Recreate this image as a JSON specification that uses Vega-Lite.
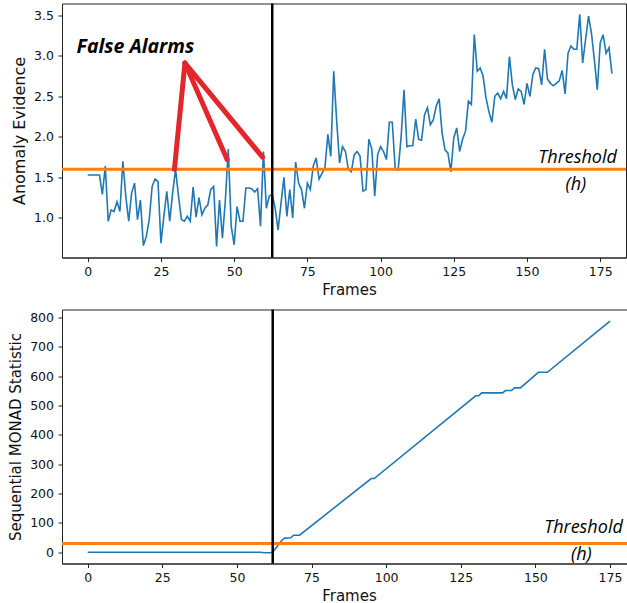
{
  "$schema": "https://vega.github.io/schema/vega-lite/v6.json",
  "background": "white",
  "padding": {"left": 7, "top": 1.5, "right": 0, "bottom": 0},
  "spacing": 10,
  "config": {
    "view": {"stroke": "#222", "strokeWidth": 1},
    "axis": {"grid": false, "domainColor": "#222", "tickColor": "#222", "tickSize": 4, "tickWidth": 1, "domainWidth": 1,
      "labelFont": "DejaVu Sans", "labelFontSize": 12.5, "labelColor": "#111", "labelPadding": 4.5, "labelOverlap": false,
      "titleFont": "DejaVu Sans", "titleFontSize": 15, "titleFontWeight": "normal", "titleColor": "#111"},
    "axisX": {"titlePadding": 4, "labelPadding": 4}
  },
  "datasets": {
    "evidence": [
      {"frame":0,"value":1.53},{"frame":1,"value":1.53},{"frame":2,"value":1.53},{"frame":3,"value":1.53},{"frame":4,"value":1.53},
      {"frame":5,"value":1.29},{"frame":6,"value":1.64},{"frame":7,"value":0.96},{"frame":8,"value":1.10},{"frame":9,"value":1.08},
      {"frame":10,"value":1.20},{"frame":11,"value":1.08},{"frame":12,"value":1.70},{"frame":13,"value":1.27},{"frame":14,"value":0.96},
      {"frame":15,"value":1.31},{"frame":16,"value":1.43},{"frame":17,"value":0.98},{"frame":18,"value":1.22},{"frame":19,"value":0.66},
      {"frame":20,"value":0.77},{"frame":21,"value":0.98},{"frame":22,"value":1.39},{"frame":23,"value":1.48},{"frame":24,"value":1.45},
      {"frame":25,"value":0.69},{"frame":26,"value":1.02},{"frame":27,"value":1.33},{"frame":28,"value":0.96},{"frame":29,"value":1.31},
      {"frame":30,"value":1.60},{"frame":31,"value":1.27},{"frame":32,"value":0.98},{"frame":33,"value":0.96},{"frame":34,"value":1.02},
      {"frame":35,"value":0.96},{"frame":36,"value":1.38},{"frame":37,"value":1.01},{"frame":38,"value":1.25},{"frame":39,"value":1.04},
      {"frame":40,"value":1.12},{"frame":41,"value":1.16},{"frame":42,"value":1.35},{"frame":43,"value":1.39},{"frame":44,"value":0.65},
      {"frame":45,"value":1.22},{"frame":46,"value":0.75},{"frame":47,"value":1.22},{"frame":48,"value":1.85},{"frame":49,"value":0.90},
      {"frame":50,"value":0.67},{"frame":51,"value":1.14},{"frame":52,"value":0.96},{"frame":53,"value":0.96},{"frame":54,"value":1.37},
      {"frame":55,"value":1.37},{"frame":56,"value":1.36},{"frame":57,"value":1.32},{"frame":58,"value":1.36},{"frame":59,"value":0.90},
      {"frame":60,"value":1.82},{"frame":61,"value":1.12},{"frame":62,"value":1.27},{"frame":63,"value":1.29},{"frame":64,"value":1.12},
      {"frame":65,"value":0.85},{"frame":66,"value":1.18},{"frame":67,"value":1.50},{"frame":68,"value":1.02},{"frame":69,"value":1.35},
      {"frame":70,"value":1.00},{"frame":71,"value":1.69},{"frame":72,"value":1.43},{"frame":73,"value":1.35},{"frame":74,"value":1.12},
      {"frame":75,"value":1.43},{"frame":76,"value":1.35},{"frame":77,"value":1.64},{"frame":78,"value":1.74},{"frame":79,"value":1.48},
      {"frame":80,"value":1.55},{"frame":81,"value":1.62},{"frame":82,"value":2.03},{"frame":83,"value":1.76},{"frame":84,"value":2.81},
      {"frame":85,"value":2.20},{"frame":86,"value":1.68},{"frame":87,"value":1.88},{"frame":88,"value":1.82},{"frame":89,"value":1.60},
      {"frame":90,"value":1.57},{"frame":91,"value":1.78},{"frame":92,"value":1.82},{"frame":93,"value":1.76},{"frame":94,"value":1.33},
      {"frame":95,"value":1.35},{"frame":96,"value":1.97},{"frame":97,"value":1.85},{"frame":98,"value":1.27},{"frame":99,"value":1.78},
      {"frame":100,"value":1.88},{"frame":101,"value":1.82},{"frame":102,"value":1.72},{"frame":103,"value":2.18},{"frame":104,"value":2.18},
      {"frame":105,"value":1.60},{"frame":106,"value":1.59},{"frame":107,"value":1.99},{"frame":108,"value":2.58},{"frame":109,"value":1.88},
      {"frame":110,"value":1.89},{"frame":111,"value":1.89},{"frame":112,"value":2.22},{"frame":113,"value":1.97},{"frame":114,"value":1.96},
      {"frame":115,"value":2.27},{"frame":116,"value":2.36},{"frame":117,"value":2.15},{"frame":118,"value":2.21},{"frame":119,"value":2.38},
      {"frame":120,"value":2.47},{"frame":121,"value":2.05},{"frame":122,"value":1.84},{"frame":123,"value":1.80},{"frame":124,"value":1.57},
      {"frame":125,"value":1.99},{"frame":126,"value":2.11},{"frame":127,"value":1.82},{"frame":128,"value":1.97},{"frame":129,"value":2.07},
      {"frame":130,"value":2.44},{"frame":131,"value":2.40},{"frame":132,"value":3.26},{"frame":133,"value":2.81},{"frame":134,"value":2.85},
      {"frame":135,"value":2.75},{"frame":136,"value":2.48},{"frame":137,"value":2.31},{"frame":138,"value":2.18},{"frame":139,"value":2.50},
      {"frame":140,"value":2.54},{"frame":141,"value":2.47},{"frame":142,"value":2.56},{"frame":143,"value":2.47},{"frame":144,"value":2.99},
      {"frame":145,"value":2.64},{"frame":146,"value":2.46},{"frame":147,"value":2.59},{"frame":148,"value":2.56},{"frame":149,"value":2.40},
      {"frame":150,"value":2.66},{"frame":151,"value":2.50},{"frame":152,"value":2.77},{"frame":153,"value":2.85},{"frame":154,"value":2.84},
      {"frame":155,"value":2.64},{"frame":156,"value":3.08},{"frame":157,"value":2.71},{"frame":158,"value":2.66},{"frame":159,"value":2.63},
      {"frame":160,"value":2.66},{"frame":161,"value":2.69},{"frame":162,"value":2.82},{"frame":163,"value":2.53},{"frame":164,"value":3.03},
      {"frame":165,"value":3.12},{"frame":166,"value":3.08},{"frame":167,"value":3.08},{"frame":168,"value":3.51},{"frame":169,"value":2.91},
      {"frame":170,"value":3.20},{"frame":171,"value":3.49},{"frame":172,"value":3.28},{"frame":173,"value":2.95},{"frame":174,"value":2.58},
      {"frame":175,"value":3.16},{"frame":176,"value":3.26},{"frame":177,"value":3.03},{"frame":178,"value":3.10},{"frame":179,"value":2.78}
    ],
    "monad": [
      {"frame":0,"value":0},{"frame":58,"value":0},{"frame":59,"value":-2},{"frame":61,"value":-2},{"frame":62,"value":0},
      {"frame":65,"value":40},{"frame":66,"value":48},{"frame":68,"value":49},{"frame":69,"value":58},{"frame":71,"value":58},
      {"frame":95,"value":251},{"frame":96,"value":251},{"frame":130,"value":533},{"frame":131,"value":533},{"frame":132,"value":543},
      {"frame":139,"value":543},{"frame":140,"value":551},{"frame":142,"value":551},{"frame":143,"value":560},{"frame":145,"value":560},
      {"frame":151,"value":613},{"frame":154,"value":613},{"frame":175,"value":787}
    ]
  },
  "vconcat": [
    {
      "width": 564,
      "height": 254,
      "layer": [
        {
          "data": {"name": "evidence"},
          "mark": {"type": "line", "color": "#1f77b4", "strokeWidth": 1.6},
          "encoding": {
            "x": {"field": "frame", "type": "quantitative", "scale": {"domain": [-8.78, 183.8], "nice": false, "zero": false},
              "axis": {"values": [0, 25, 50, 75, 100, 125, 150, 175], "title": "Frames", "titleX": 287}},
            "y": {"field": "value", "type": "quantitative", "scale": {"domain": [0.513, 3.644], "nice": false, "zero": false},
              "axis": {"values": [1, 1.5, 2, 2.5, 3, 3.5], "format": ".1f", "labelOverlap": false, "title": "Anomaly Evidence", "titleFontSize": 16, "titlePadding": 6.5}}
          }
        },
        {
          "data": {"values": [{"h": 1.6}]},
          "mark": {"type": "rule", "color": "#ff7f0e", "strokeWidth": 3},
          "encoding": {"y": {"field": "h", "type": "quantitative"}}
        },
        {
          "data": {"values": [{"change": 63}]},
          "mark": {"type": "rule", "color": "#000000", "strokeWidth": 2.5},
          "encoding": {"x": {"field": "change", "type": "quantitative"}}
        },
        {
          "data": {"values": [
            {"x": 33.2, "y": 2.91, "x2": 29.6, "y2": 1.60},
            {"x": 33.2, "y": 2.91, "x2": 47.6, "y2": 1.72},
            {"x": 33.2, "y": 2.91, "x2": 59.7, "y2": 1.75}
          ]},
          "mark": {"type": "rule", "color": "#e4252b", "strokeWidth": 5, "strokeCap": "round"},
          "encoding": {
            "x": {"field": "x", "type": "quantitative"},
            "y": {"field": "y", "type": "quantitative"},
            "x2": {"field": "x2"},
            "y2": {"field": "y2"}
          }
        },
        {
          "data": {"values": [{"x": -3.8, "y": 3.11, "label": "False Alarms"}]},
          "mark": {"type": "text", "font": "Open Sans", "fontSize": 19.5, "fontStyle": "italic", "fontWeight": "bold", "align": "left", "baseline": "middle", "color": "#000"},
          "encoding": {
            "x": {"field": "x", "type": "quantitative"},
            "y": {"field": "y", "type": "quantitative"},
            "text": {"field": "label"}
          }
        },
        {
          "data": {"values": [{"x": 180.7, "y": 1.74, "label": "Threshold"}]},
          "mark": {"type": "text", "font": "Open Sans", "fontSize": 18, "fontStyle": "italic", "align": "right", "baseline": "middle", "color": "#000"},
          "encoding": {
            "x": {"field": "x", "type": "quantitative"},
            "y": {"field": "y", "type": "quantitative"},
            "text": {"field": "label"}
          }
        },
        {
          "data": {"values": [{"x": 166.7, "y": 1.41, "label": "(h)"}]},
          "mark": {"type": "text", "font": "Open Sans", "fontSize": 18, "fontStyle": "italic", "align": "center", "baseline": "middle", "color": "#000"},
          "encoding": {
            "x": {"field": "x", "type": "quantitative"},
            "y": {"field": "y", "type": "quantitative"},
            "text": {"field": "label"}
          }
        }
      ]
    },
    {
      "width": 565,
      "height": 254,
      "layer": [
        {
          "data": {"name": "monad"},
          "mark": {"type": "line", "color": "#1f77b4", "strokeWidth": 1.6},
          "encoding": {
            "x": {"field": "frame", "type": "quantitative", "scale": {"domain": [-8.6, 180.7], "nice": false, "zero": false},
              "axis": {"values": [0, 25, 50, 75, 100, 125, 150, 175], "title": "Frames", "titleX": 287}},
            "y": {"field": "value", "type": "quantitative", "scale": {"domain": [-38.5, 827], "nice": false, "zero": false},
              "axis": {"values": [0, 100, 200, 300, 400, 500, 600, 700, 800], "labelOverlap": false, "tickCount": 9, "title": "Sequential MONAD Statistic", "titlePadding": 6.3}}
          }
        },
        {
          "data": {"values": [{"h": 30}]},
          "mark": {"type": "rule", "color": "#ff7f0e", "strokeWidth": 3},
          "encoding": {"y": {"field": "h", "type": "quantitative"}}
        },
        {
          "data": {"values": [{"change": 62}]},
          "mark": {"type": "rule", "color": "#000000", "strokeWidth": 2.5},
          "encoding": {"x": {"field": "change", "type": "quantitative"}}
        },
        {
          "data": {"values": [{"x": 179.3, "y": 82, "label": "Threshold"}]},
          "mark": {"type": "text", "font": "Open Sans", "fontSize": 18, "fontStyle": "italic", "align": "right", "baseline": "middle", "color": "#000"},
          "encoding": {
            "x": {"field": "x", "type": "quantitative"},
            "y": {"field": "y", "type": "quantitative"},
            "text": {"field": "label"}
          }
        },
        {
          "data": {"values": [{"x": 165.4, "y": -10, "label": "(h)"}]},
          "mark": {"type": "text", "font": "Open Sans", "fontSize": 18, "fontStyle": "italic", "align": "center", "baseline": "middle", "color": "#000"},
          "encoding": {
            "x": {"field": "x", "type": "quantitative"},
            "y": {"field": "y", "type": "quantitative"},
            "text": {"field": "label"}
          }
        }
      ]
    }
  ]
}
